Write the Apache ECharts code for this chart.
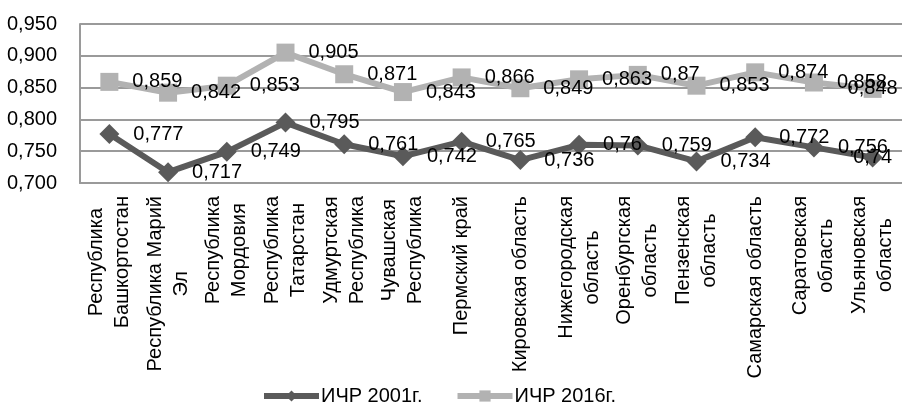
<!DOCTYPE html>
<html>
<head>
<meta charset="utf-8">
<script src="https://cdn.jsdelivr.net/npm/echarts@6/dist/echarts.min.js"></script>
<style>
  html, body { margin: 0; padding: 0; background: #fff; }
  #chart { width: 902px; height: 413px; }
</style>
</head>
<body>
<div id="chart"></div>
<script>
var regions = [
  'Республика\nБашкортостан', 'Республика Марий\nЭл', 'Республика\nМордовия',
  'Республика\nТатарстан', 'Удмуртская\nРеспублика', 'Чувашская\nРеспублика',
  'Пермский край', 'Кировская область', 'Нижегородская\nобласть',
  'Оренбургская\nобласть', 'Пензенская\nобласть', 'Самарская область',
  'Саратовская\nобласть', 'Ульяновская\nобласть'
];
var hdi2001 = [0.777, 0.717, 0.749, 0.795, 0.761, 0.742, 0.765, 0.736, 0.76, 0.759, 0.734, 0.772, 0.756, 0.74];
var hdi2016 = [0.859, 0.842, 0.853, 0.905, 0.871, 0.843, 0.866, 0.849, 0.863, 0.87, 0.853, 0.874, 0.858, 0.848];
var seriesNames = ['ИЧР 2001г.', 'ИЧР 2016г.'];

var FONT = '"Liberation Sans", Arial, sans-serif';

function fmt(v) {
  return String(v).replace('.', ',');
}

// last point label sits on the point (no room on the right)
function withLabels(arr) {
  return arr.map(function (v, i) {
    if (i === arr.length - 1) {
      return { value: v, label: { position: 'inside' } };
    }
    return v;
  });
}

function makeSeries(name, data, color, symbol, size) {
  return {
    name: name,
    type: 'line',
    data: withLabels(data),
    symbol: symbol,
    symbolSize: size,
    lineStyle: { color: color, width: 6 },
    itemStyle: { color: color },
    label: {
      show: true,
      position: 'right',
      distance: 14,
      color: '#000',
      fontFamily: FONT,
      fontSize: 20,
      formatter: function (p) { return fmt(p.value); }
    },
    animation: false
  };
}

var chart = echarts.init(document.getElementById('chart'));
chart.setOption({
  backgroundColor: '#fff',
  grid: { left: 80, top: 24, width: 826, height: 159, containLabel: false },
  legend: {
    bottom: 2,
    left: 256,
    itemWidth: 55,
    itemHeight: 14,
    itemGap: 32,
    lineStyle: { width: 6 },
    textStyle: { fontFamily: FONT, fontSize: 20, color: '#000', padding: [0, 0, 0, -3] },
    data: seriesNames
  },
  xAxis: {
    type: 'category',
    data: regions,
    boundaryGap: true,
    axisLine: { show: true, lineStyle: { color: '#9a9a9a', width: 2 } },
    axisTick: { show: false },
    axisLabel: {
      interval: 0,
      rotate: 90,
      margin: 13,
      color: '#000',
      fontFamily: FONT,
      fontSize: 20,
      formatter: function (v) {
        return v.split('\n').map(function (s) { return '{c|' + s + '}'; }).join('\n');
      },
      rich: {
        c: { align: 'center', fontFamily: FONT, fontSize: 20, lineHeight: 26, color: '#000' }
      }
    }
  },
  yAxis: {
    type: 'value',
    min: 0.7,
    max: 0.95,
    interval: 0.05,
    axisLine: { show: true, lineStyle: { color: '#9a9a9a', width: 2 } },
    axisTick: { show: false },
    splitLine: { lineStyle: { color: '#9a9a9a', width: 2 } },
    axisLabel: {
      margin: 23,
      color: '#000',
      fontFamily: FONT,
      fontSize: 20,
      formatter: function (v) { return v.toFixed(3).replace('.', ','); }
    }
  },
  series: [
    makeSeries(seriesNames[0], hdi2001, '#5a5a5a', 'diamond', 20),
    makeSeries(seriesNames[1], hdi2016, '#b2b2b2', 'rect', 18)
  ]
});
</script>
</body>
</html>
